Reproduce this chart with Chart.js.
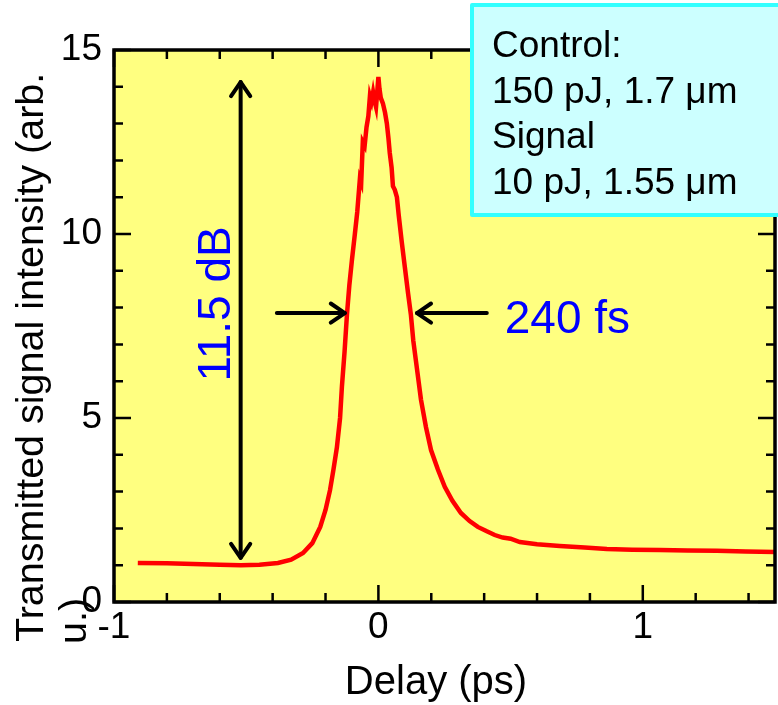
<!DOCTYPE html>
<html>
<head>
<meta charset="utf-8">
<script src="https://cdn.jsdelivr.net/npm/chart.js@4.4.1/dist/chart.umd.min.js"></script>
<style>
  body { margin: 0; background: #fff; }
  #wrap { width: 778px; height: 705px; }
</style>
</head>
<body>
<div id="wrap"><canvas id="chart" width="778" height="705"></canvas></div>
<script>
// data
const delay = [-0.91, -0.8, -0.7, -0.6, -0.52, -0.45, -0.38, -0.33, -0.285, -0.25, -0.22, -0.2, -0.183, -0.17,
  -0.157, -0.145, -0.138, -0.128, -0.119, -0.11, -0.1, -0.089, -0.08, -0.07, -0.065, -0.059, -0.052, -0.045,
  -0.038, -0.032, -0.026, -0.02, -0.014, -0.009, -0.004, 0, 0.004, 0.009, 0.017, 0.025, 0.032, 0.038, 0.043,
  0.05, 0.055, 0.062, 0.07, 0.077, 0.088, 0.1, 0.112, 0.123, 0.132, 0.142, 0.152, 0.161, 0.18, 0.199, 0.225,
  0.251, 0.28, 0.312, 0.345, 0.376, 0.41, 0.44, 0.47, 0.5, 0.535, 0.6, 0.686, 0.78, 0.864, 0.96, 1.064, 1.17,
  1.28, 1.39, 1.5];
const intensity = [1.06, 1.05, 1.03, 1.01, 1.0, 1.01, 1.06, 1.15, 1.33, 1.6, 2.04, 2.5, 3.04, 3.6,
  4.2, 5.0, 5.85, 6.8, 7.8, 8.6, 9.3, 10.0, 10.6, 11.5, 11.4, 12.5, 12.4, 12.9,
  13.2, 13.75, 13.6, 13.85, 13.6, 13.45, 13.9, 14.27, 13.95, 13.7, 13.55, 13.3, 13.0, 12.6, 12.2,
  11.8, 11.3, 11.2, 11.0, 10.5, 9.8, 9.1, 8.4, 7.8, 7.1, 6.55, 6.0, 5.5, 4.75, 4.13, 3.6,
  3.13, 2.75, 2.42, 2.2, 2.04, 1.92, 1.82, 1.75, 1.72, 1.63, 1.57, 1.52, 1.48, 1.44, 1.42, 1.41, 1.40,
  1.39, 1.37, 1.36];
const xTicks = [-1, 0, 1];
const yTicks = [0, 5, 10, 15];
const legendLines = ['Control:', '150 pJ, 1.7 \u03bcm', 'Signal', '10 pJ, 1.55 \u03bcm'];

const FONT = '"Liberation Sans", Arial, sans-serif';

function arrow(ctx, x1, y1, x2, y2, both) {
    const head = (fx, fy, tx, ty) => {
        const a = Math.atan2(ty - fy, tx - fx);
        const L = 17, w = 0.6;
        ctx.beginPath();
        ctx.moveTo(tx - L * Math.cos(a - w), ty - L * Math.sin(a - w));
        ctx.lineTo(tx, ty);
        ctx.lineTo(tx - L * Math.cos(a + w), ty - L * Math.sin(a + w));
        ctx.stroke();
    };
    ctx.beginPath();
    ctx.moveTo(x1, y1);
    ctx.lineTo(x2, y2);
    ctx.stroke();
    head(x1, y1, x2, y2);
    if (both) head(x2, y2, x1, y1);
}

const decor = {
    id: 'decor',
    beforeDraw(chart) {
        const { ctx, chartArea: a } = chart;
        ctx.save();
        ctx.fillStyle = '#ffff80';
        ctx.fillRect(a.left, a.top, a.right - a.left, a.bottom - a.top);
        ctx.restore();
    },
    afterDraw(chart) {
        const { ctx, chartArea: a } = chart;
        const x = chart.scales.x, y = chart.scales.y;
        ctx.save();

        // frame + inward ticks on all sides
        ctx.strokeStyle = '#000';
        ctx.lineWidth = 2.5;
        for (let i = 0; i <= 12; i++) {
            const v = -1 + i * 0.2;
            const px = x.getPixelForValue(v);
            const len = Math.abs(v - Math.round(v)) < 1e-6 ? 17 : 9;
            ctx.beginPath();
            ctx.moveTo(px, a.bottom); ctx.lineTo(px, a.bottom - len);
            ctx.moveTo(px, a.top); ctx.lineTo(px, a.top + len);
            ctx.stroke();
        }
        for (let v = 0; v <= 15; v++) {
            const py = y.getPixelForValue(v);
            const len = v % 5 === 0 ? 17 : 9;
            ctx.beginPath();
            ctx.moveTo(a.left, py); ctx.lineTo(a.left + len, py);
            ctx.moveTo(a.right, py); ctx.lineTo(a.right - len, py);
            ctx.stroke();
        }
        ctx.lineWidth = 3.5;
        ctx.strokeRect(a.left, a.top, a.right - a.left, a.bottom - a.top);

        // arrows
        ctx.lineWidth = 4;
        ctx.lineCap = 'round';
        ctx.lineJoin = 'round';
        arrow(ctx, x.getPixelForValue(-0.521), y.getPixelForValue(1.2),
              x.getPixelForValue(-0.521), y.getPixelForValue(14.13), true);
        arrow(ctx, x.getPixelForValue(-0.384), y.getPixelForValue(7.85),
              x.getPixelForValue(-0.127), y.getPixelForValue(7.85), false);
        arrow(ctx, x.getPixelForValue(0.41), y.getPixelForValue(7.85),
              x.getPixelForValue(0.146), y.getPixelForValue(7.85), false);

        // blue labels
        ctx.fillStyle = '#0000ff';
        ctx.font = '46px ' + FONT;
        ctx.textAlign = 'left';
        ctx.textBaseline = 'alphabetic';
        ctx.fillText('240 fs', x.getPixelForValue(0.478), y.getPixelForValue(7.31));
        ctx.save();
        ctx.translate(x.getPixelForValue(-0.611), y.getPixelForValue(8.1));
        ctx.rotate(-Math.PI / 2);
        ctx.textAlign = 'center';
        ctx.textBaseline = 'middle';
        ctx.fillText('11.5 dB', 0, 0);
        ctx.restore();

        // legend box
        ctx.fillStyle = '#ccffff';
        ctx.strokeStyle = '#33ffff';
        ctx.lineWidth = 4;
        ctx.fillRect(472, 5, 330, 210);
        ctx.strokeRect(472, 5, 330, 210);
        ctx.fillStyle = '#000';
        ctx.font = '37px ' + FONT;
        legendLines.forEach((t, i) => ctx.fillText(t, 492, 57 + i * 45.5));

        // x axis title
        ctx.font = '40px ' + FONT;
        ctx.textAlign = 'center';
        ctx.fillText('Delay (ps)', 436, 694);

        // y axis title, wrapped like the original
        ctx.save();
        ctx.rotate(-Math.PI / 2);
        ctx.textAlign = 'left';
        ctx.font = '39.5px ' + FONT;
        ctx.fillText('Transmitted signal intensity (arb.', -642, 43);
        ctx.fillText('u.)', -644, 86);
        ctx.restore();

        ctx.restore();
    }
};

new Chart(document.getElementById('chart'), {
    type: 'line',
    data: {
        datasets: [{
            data: delay.map((d, i) => ({ x: d, y: intensity[i] })),
            borderColor: '#ff0000',
            borderWidth: 4.5,
            pointRadius: 0,
            tension: 0
        }]
    },
    options: {
        responsive: false,
        animation: false,
        devicePixelRatio: 1,
        layout: { padding: { top: 50, right: 3, left: 0, bottom: 0 } },
        plugins: { legend: { display: false }, tooltip: { enabled: false } },
        scales: {
            x: {
                type: 'linear',
                min: -1,
                max: 1.5,
                afterBuildTicks: s => { s.ticks = xTicks.map(v => ({ value: v })); },
                afterFit: s => { s.height = 103; },
                grid: { display: false, drawTicks: false },
                border: { display: false },
                ticks: { color: '#000', font: { family: FONT, size: 37 }, padding: 4 }
            },
            y: {
                min: 0,
                max: 15,
                afterBuildTicks: s => { s.ticks = yTicks.map(v => ({ value: v })); },
                afterFit: s => { s.width = 114; },
                grid: { display: false, drawTicks: false },
                border: { display: false },
                ticks: { color: '#000', font: { family: FONT, size: 37 }, padding: 12 }
            }
        }
    },
    plugins: [decor]
});
</script>
</body>
</html>
